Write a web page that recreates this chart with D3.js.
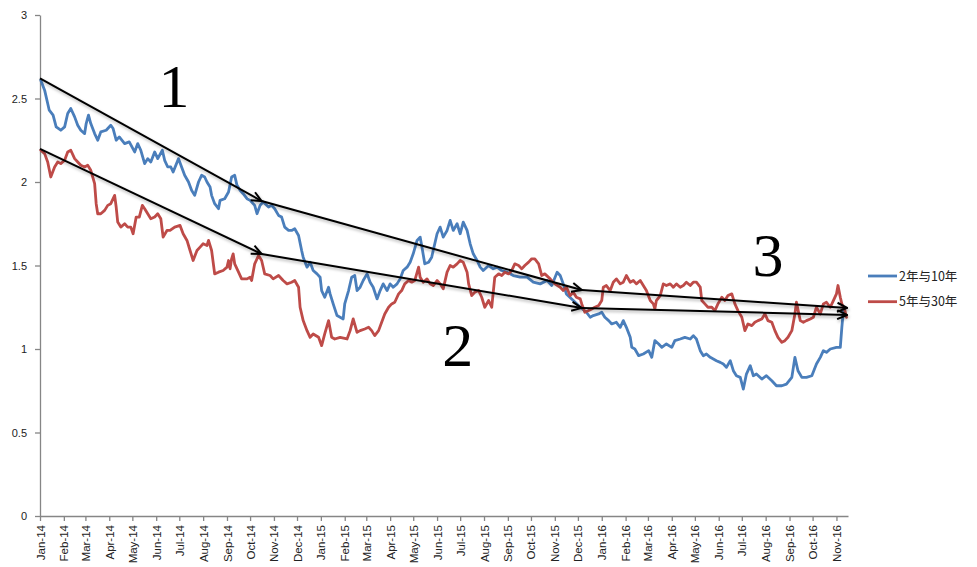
<!DOCTYPE html>
<html>
<head>
<meta charset="utf-8">
<script src="https://cdn.jsdelivr.net/npm/d3@7"></script>
<style>
  html, body { margin: 0; padding: 0; background: #fff; }
  svg { display: block; }
</style>
</head>
<body>
<div id="chart"></div>
<script>
// --- Data ---
// Dates are stored as day offsets from 1 Jan 2014 (like a spreadsheet serial date).
const seriesNames = ["2年与10年", "5年与30年"];
const seriesColors = ["#4a7ebb", "#be4b48"];

const blueDay = [1,6,10,12,17,21,27,32,36,40,45,49,53,58,60,63,66,71,75,79,86,92,95,99,103,110,116,123,127,131,136,140,144,149,153,159,162,166,170,173,180,184,188,193,197,201,206,210,214,217,221,223,227,232,234,240,245,249,253,256,260,264,269,273,279,282,286,290,297,301,305,310,314,318,323,327,331,336,340,342,347,351,355,360,364,366,370,375,377,381,386,390,394,396,401,405,409,412,416,420,425,429,433,438,442,446,451,455,459,464,468,472,477,481,485,490,494,496,500,505,509,516,520,524,529,533,537,542,546,550,555,559,563,568,572,576,583,589,594,600,607,615,624,633,641,650,659,665,672,676,680,684,693,702,710,715,719,726,730,734,739,743,749,754,758,762,767,769,773,778,784,791,795,799,804,808,814,821,825,832,838,845,849,853,858,862,866,871,875,879,884,888,892,897,901,905,910,914,918,923,927,931,938,944,951,957,964,970,977,981,985,990,996,1003,1009,1014,1018,1022,1027,1035,1040,1042,1044];
const blueVal = [2.61,2.55,2.47,2.43,2.40,2.33,2.31,2.33,2.41,2.44,2.39,2.34,2.31,2.29,2.35,2.40,2.35,2.29,2.25,2.30,2.31,2.34,2.32,2.25,2.27,2.23,2.24,2.18,2.23,2.19,2.11,2.14,2.12,2.18,2.14,2.19,2.13,2.09,2.09,2.06,2.14,2.09,2.04,2.00,1.95,1.92,2.00,2.04,2.03,2.00,1.97,1.92,1.87,1.84,1.89,1.90,1.94,2.03,2.04,1.98,1.95,1.93,1.90,1.89,1.86,1.81,1.86,1.88,1.85,1.86,1.84,1.80,1.79,1.73,1.71,1.71,1.72,1.68,1.59,1.55,1.49,1.52,1.47,1.45,1.43,1.35,1.31,1.37,1.33,1.27,1.20,1.19,1.18,1.27,1.35,1.43,1.44,1.35,1.37,1.41,1.45,1.40,1.37,1.30,1.35,1.39,1.35,1.39,1.37,1.39,1.42,1.47,1.49,1.52,1.57,1.65,1.67,1.62,1.51,1.52,1.55,1.69,1.73,1.67,1.71,1.77,1.71,1.75,1.69,1.76,1.71,1.63,1.57,1.53,1.49,1.47,1.50,1.48,1.49,1.47,1.46,1.44,1.43,1.43,1.40,1.39,1.41,1.38,1.46,1.44,1.39,1.33,1.29,1.25,1.22,1.19,1.20,1.21,1.22,1.19,1.17,1.15,1.16,1.13,1.17,1.13,1.07,1.01,1.00,0.96,0.97,0.99,0.95,1.05,1.03,1.01,1.03,1.01,1.05,1.06,1.07,1.06,1.08,1.06,0.99,0.96,0.97,0.95,0.94,0.93,0.92,0.91,0.89,0.93,0.87,0.84,0.83,0.76,0.85,0.90,0.84,0.85,0.82,0.84,0.81,0.78,0.78,0.79,0.83,0.95,0.87,0.83,0.83,0.84,0.91,0.95,0.99,0.98,1.00,1.01,1.01,1.13,1.23];

const redDay = [1,6,10,14,19,23,27,32,36,40,45,49,53,58,62,66,71,73,75,79,84,88,92,97,99,101,105,110,114,118,121,125,129,133,136,140,144,149,153,157,160,165,169,175,182,186,191,195,199,204,208,212,217,219,223,227,232,238,243,245,247,249,251,253,258,262,269,273,275,279,284,288,292,299,303,310,316,321,327,331,336,338,342,347,351,355,362,366,370,375,379,383,390,399,403,407,412,416,422,427,431,435,440,444,448,453,457,461,466,470,474,479,483,487,492,494,498,503,507,511,516,520,524,529,533,537,542,546,550,555,557,561,565,570,574,578,583,587,591,596,600,604,609,613,617,622,626,630,635,639,643,648,652,656,663,669,676,680,684,689,693,697,702,704,708,713,717,721,726,730,732,736,741,745,749,754,758,762,767,771,775,780,784,788,793,797,799,801,806,810,814,819,823,827,832,836,840,845,849,853,858,860,864,868,873,877,881,886,890,894,899,903,907,912,916,920,925,929,933,938,942,946,951,955,959,964,968,972,977,981,983,988,992,996,1001,1005,1009,1014,1018,1022,1027,1031,1035,1037,1040,1042,1046,1048];
const redVal = [2.19,2.17,2.12,2.03,2.09,2.12,2.11,2.13,2.18,2.19,2.14,2.12,2.10,2.09,2.10,2.07,1.99,1.87,1.81,1.81,1.83,1.86,1.87,1.92,1.85,1.76,1.73,1.75,1.73,1.73,1.69,1.79,1.79,1.86,1.84,1.81,1.78,1.79,1.81,1.78,1.67,1.71,1.71,1.73,1.74,1.69,1.65,1.59,1.53,1.59,1.61,1.63,1.62,1.65,1.59,1.45,1.46,1.47,1.49,1.53,1.48,1.54,1.57,1.51,1.46,1.42,1.42,1.43,1.41,1.51,1.56,1.53,1.45,1.44,1.42,1.44,1.41,1.39,1.40,1.41,1.37,1.25,1.17,1.11,1.07,1.09,1.07,1.02,1.09,1.17,1.07,1.06,1.07,1.06,1.11,1.18,1.10,1.11,1.12,1.13,1.11,1.08,1.11,1.16,1.21,1.25,1.27,1.28,1.33,1.35,1.39,1.41,1.40,1.41,1.49,1.43,1.40,1.42,1.39,1.38,1.41,1.39,1.36,1.46,1.50,1.49,1.51,1.53,1.52,1.46,1.39,1.32,1.34,1.35,1.31,1.25,1.29,1.25,1.43,1.45,1.44,1.46,1.45,1.47,1.51,1.50,1.48,1.50,1.52,1.54,1.54,1.51,1.44,1.45,1.42,1.39,1.37,1.35,1.37,1.32,1.34,1.31,1.30,1.27,1.22,1.23,1.24,1.25,1.26,1.29,1.37,1.38,1.35,1.40,1.42,1.39,1.40,1.44,1.40,1.41,1.39,1.41,1.38,1.35,1.29,1.27,1.24,1.29,1.32,1.39,1.38,1.39,1.37,1.39,1.37,1.38,1.40,1.38,1.40,1.40,1.37,1.29,1.27,1.25,1.25,1.23,1.27,1.31,1.29,1.32,1.33,1.27,1.23,1.19,1.11,1.15,1.14,1.16,1.17,1.18,1.21,1.17,1.16,1.11,1.07,1.04,1.05,1.07,1.11,1.21,1.28,1.17,1.16,1.17,1.18,1.19,1.25,1.21,1.27,1.28,1.25,1.29,1.33,1.38,1.31,1.27,1.23,1.19];

// Trend arrows drawn on the chart: [day offset, value] points, one arrow per segment.
const trendUpper = [[0, 2.62], [288, 1.886], [704, 1.353], [1049, 1.246]];
const trendLower = [[0, 2.198], [288, 1.569], [704, 1.246], [1049, 1.204]];
// Phase labels: [text, day offset, value]
const phaseLabels = [["1", 174, 2.449], ["2", 543, 0.898], ["3", 946, 1.437]];

const yTicks = [0, 0.5, 1, 1.5, 2, 2.5, 3];
const axisStart = "2014-01-01";
const axisEnd = "2016-11-16";

// --- Setup ---
const width = 977, height = 567;
const margin = { left: 40, right: 129, top: 15, bottom: 51 };

const parse = d3.timeParse("%Y-%m-%d");
const start = parse(axisStart);
const toDate = (d) => d3.timeDay.offset(start, d);

const x = d3.scaleTime()
  .domain([start, parse(axisEnd)])
  .range([margin.left, width - margin.right]);
const y = d3.scaleLinear()
  .domain([0, 3])
  .range([height - margin.bottom, margin.top]);

const svg = d3.select("#chart").append("svg")
  .attr("width", width)
  .attr("height", height)
  .style("background", "#fff");

const defs = svg.append("defs");
defs.append("marker")
  .attr("id", "arrow")
  .attr("viewBox", "0 0 12 12")
  .attr("refX", 11)
  .attr("refY", 6)
  .attr("markerWidth", 12)
  .attr("markerHeight", 12)
  .attr("markerUnits", "userSpaceOnUse")
  .attr("orient", "auto")
  .append("path")
  .attr("d", "M1,1.5 L11,6 L1,10.5")
  .attr("fill", "none")
  .attr("stroke", "#000")
  .attr("stroke-width", 2);
const shadow = defs.append("filter")
  .attr("id", "shadow")
  .attr("x", "-10%").attr("y", "-50%")
  .attr("width", "120%").attr("height", "200%");
shadow.append("feDropShadow")
  .attr("dx", 1).attr("dy", 2)
  .attr("stdDeviation", 1.5)
  .attr("flood-color", "#000")
  .attr("flood-opacity", 0.3);

// --- Axes ---
const axisColor = "#868686";
const labelFont = "'Liberation Sans', Arial, sans-serif";

const yAxis = svg.append("g")
  .attr("transform", `translate(${margin.left},0)`)
  .call(d3.axisLeft(y).tickValues(yTicks).tickSize(5).tickSizeOuter(0).tickPadding(8)
    .tickFormat((d) => String(d)));
yAxis.select(".domain").attr("stroke", axisColor).attr("stroke-width", 1.3);
yAxis.selectAll(".tick line").attr("stroke", axisColor).attr("stroke-width", 1.3);
yAxis.selectAll(".tick text")
  .attr("fill", "#222")
  .style("font", `11px ${labelFont}`);

const xAxis = svg.append("g")
  .attr("transform", `translate(0,${height - margin.bottom})`)
  .call(d3.axisBottom(x).ticks(d3.timeMonth.every(1)).tickSize(5).tickSizeOuter(0)
    .tickFormat(d3.timeFormat("%b-%y")));
xAxis.select(".domain").attr("stroke", axisColor).attr("stroke-width", 1.3);
xAxis.selectAll(".tick line").attr("stroke", axisColor).attr("stroke-width", 1.3);
xAxis.selectAll(".tick text")
  .attr("fill", "#222")
  .style("font", `11.5px ${labelFont}`)
  .attr("text-anchor", "end")
  .attr("dy", "0.35em")
  .attr("transform", "translate(0,9) rotate(-90)")
  .attr("x", 0)
  .attr("y", 0);

// --- Series ---
const series = [
  blueDay.map((d, i) => ({ date: toDate(d), value: blueVal[i] })),
  redDay.map((d, i) => ({ date: toDate(d), value: redVal[i] }))
];

const line = d3.line()
  .x((d) => x(d.date))
  .y((d) => y(d.value));

svg.append("g")
  .selectAll("path")
  .data(series)
  .join("path")
  .attr("d", line)
  .attr("fill", "none")
  .attr("stroke", (d, i) => seriesColors[i])
  .attr("stroke-width", 2.8)
  .attr("stroke-linejoin", "round")
  .attr("stroke-linecap", "round");

// --- Trend arrows ---
const arrows = svg.append("g").attr("filter", "url(#shadow)");
[trendUpper, trendLower].forEach((pts) => {
  d3.pairs(pts).forEach(([a, b]) => {
    arrows.append("line")
      .attr("x1", x(toDate(a[0])))
      .attr("y1", y(a[1]))
      .attr("x2", x(toDate(b[0])))
      .attr("y2", y(b[1]))
      .attr("stroke", "#000")
      .attr("stroke-width", 2)
      .attr("marker-end", "url(#arrow)");
  });
});

// --- Phase numbers ---
svg.append("g")
  .selectAll("text")
  .data(phaseLabels)
  .join("text")
  .attr("x", (d) => x(toDate(d[1])))
  .attr("y", (d) => y(d[2]))
  .attr("text-anchor", "middle")
  .style("font", "62px 'Liberation Serif', 'Times New Roman', serif")
  .attr("fill", "#000")
  .text((d) => d[0]);

// --- Legend ---
const legend = svg.append("g")
  .attr("transform", `translate(${width - margin.right + 20},276)`);
const item = legend.selectAll("g")
  .data(seriesNames)
  .join("g")
  .attr("transform", (d, i) => `translate(0,${i * 25.7})`);
item.append("line")
  .attr("x1", 0).attr("x2", 29)
  .attr("stroke", (d, i) => seriesColors[i])
  .attr("stroke-width", 2.8);
item.append("text")
  .attr("x", 31)
  .attr("dy", "0.36em")
  .attr("fill", "#222")
  .style("font", "12.5px 'Noto Sans CJK SC', sans-serif")
  .text((d) => d);
</script>
</body>
</html>
